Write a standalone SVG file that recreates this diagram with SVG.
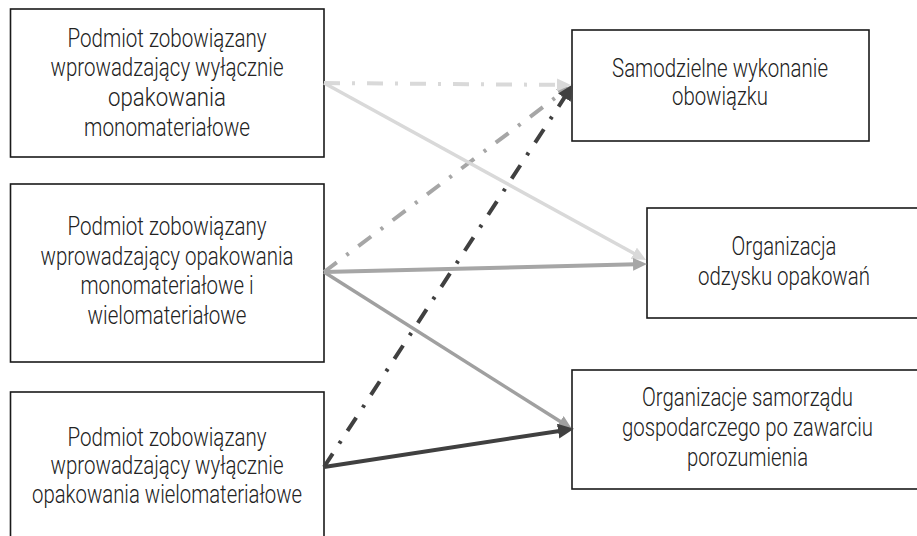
<svg xmlns="http://www.w3.org/2000/svg" width="917" height="536" viewBox="0 0 917 536">
<style>
.box{fill:#ffffff;stroke:#1a1a1a;stroke-width:1.6}
.t{font-family:"Roboto","Liberation Sans",sans-serif;font-weight:300;font-size:25px;fill:#222222;text-anchor:middle}
.c{fill:none;stroke-linecap:butt}
.dd{stroke-dasharray:16 12 3 12}
.light{stroke:#d9d9d9}
.mid{stroke:#a6a6a6}
.mid2{stroke:#a0a0a0}
.dark{stroke:#404040}
</style>
<defs>
<marker id="aLight" markerUnits="userSpaceOnUse" markerWidth="16" markerHeight="14" refX="3" refY="6.5" orient="auto"><path d="M0,0 L14,6.5 L0,13 z" fill="#d9d9d9"/></marker>
<marker id="aMid" markerUnits="userSpaceOnUse" markerWidth="16" markerHeight="14" refX="3" refY="6.5" orient="auto"><path d="M0,0 L14,6.5 L0,13 z" fill="#a6a6a6"/></marker>
<marker id="aMid2" markerUnits="userSpaceOnUse" markerWidth="16" markerHeight="14" refX="3" refY="6.5" orient="auto"><path d="M0,0 L14,6.5 L0,13 z" fill="#a0a0a0"/></marker>
<marker id="aDark" markerUnits="userSpaceOnUse" markerWidth="18" markerHeight="16" refX="3" refY="7.5" orient="auto"><path d="M0,0 L16,7.5 L0,15 z" fill="#404040"/></marker>
</defs>
<rect width="917" height="536" fill="#ffffff"/>

<g id="n1">
<rect class="box" x="10.5" y="9" width="313.5" height="148"/>
<text class="t" x="167" y="47" textLength="199" lengthAdjust="spacingAndGlyphs">Podmiot zobowiązany</text>
<text class="t" x="167" y="76" textLength="233" lengthAdjust="spacingAndGlyphs">wprowadzający wyłącznie</text>
<text class="t" x="167" y="106" textLength="118" lengthAdjust="spacingAndGlyphs">opakowania</text>
<text class="t" x="167" y="136" textLength="166" lengthAdjust="spacingAndGlyphs">monomateriałowe</text>
</g>

<g id="n2">
<rect class="box" x="10.5" y="184" width="313.5" height="178"/>
<text class="t" x="167" y="235" textLength="199" lengthAdjust="spacingAndGlyphs">Podmiot zobowiązany</text>
<text class="t" x="167" y="264.5" textLength="253" lengthAdjust="spacingAndGlyphs">wprowadzający opakowania</text>
<text class="t" x="167" y="294" textLength="173" lengthAdjust="spacingAndGlyphs">monomateriałowe i</text>
<text class="t" x="167" y="323.5" textLength="159" lengthAdjust="spacingAndGlyphs">wielomateriałowe</text>
</g>

<g id="n3">
<rect class="box" x="10.5" y="392" width="313.5" height="146"/>
<text class="t" x="167" y="446" textLength="199" lengthAdjust="spacingAndGlyphs">Podmiot zobowiązany</text>
<text class="t" x="167" y="474" textLength="233" lengthAdjust="spacingAndGlyphs">wprowadzający wyłącznie</text>
<text class="t" x="167" y="503" textLength="270" lengthAdjust="spacingAndGlyphs">opakowania wielomateriałowe</text>
</g>

<g id="n4">
<rect class="box" x="572" y="30" width="297" height="111"/>
<text class="t" x="720" y="77" textLength="216" lengthAdjust="spacingAndGlyphs">Samodzielne wykonanie</text>
<text class="t" x="720" y="105" textLength="96" lengthAdjust="spacingAndGlyphs">obowiązku</text>
</g>

<g id="n5">
<rect class="box" x="647" y="208" width="272" height="110"/>
<text class="t" x="784" y="255" textLength="105" lengthAdjust="spacingAndGlyphs">Organizacja</text>
<text class="t" x="784" y="285" textLength="172" lengthAdjust="spacingAndGlyphs">odzysku opakowań</text>
</g>

<g id="n6">
<rect class="box" x="572" y="370" width="347" height="119"/>
<text class="t" x="747.5" y="406" textLength="211" lengthAdjust="spacingAndGlyphs">Organizacje samorządu</text>
<text class="t" x="747.5" y="436" textLength="251" lengthAdjust="spacingAndGlyphs">gospodarczego po zawarciu</text>
<text class="t" x="747.5" y="466" textLength="121" lengthAdjust="spacingAndGlyphs">porozumienia</text>
</g>

<g id="connectors">
<line class="c dd mid" x1="324" y1="272" x2="562.2" y2="92.6" stroke-width="4" marker-end="url(#aMid)"/>
<line class="c mid2" x1="324" y1="272" x2="562.7" y2="423.1" stroke-width="3.5" marker-end="url(#aMid2)"/>
<line class="c light" x1="324" y1="83" x2="636.4" y2="254.7" stroke-width="3.5" marker-end="url(#aLight)"/>
<line class="c mid" x1="324" y1="272" x2="636" y2="264.3" stroke-width="4" marker-end="url(#aMid)"/>
<line class="c dd light" x1="324" y1="83" x2="560" y2="84.9" stroke-width="4" marker-end="url(#aLight)"/>
<line class="c dd dark" x1="324" y1="467" x2="566" y2="95.2" stroke-width="4" marker-end="url(#aDark)"/>
<line class="c dark" x1="324" y1="467" x2="561.1" y2="430.7" stroke-width="4" marker-end="url(#aDark)"/>
</g>
</svg>
